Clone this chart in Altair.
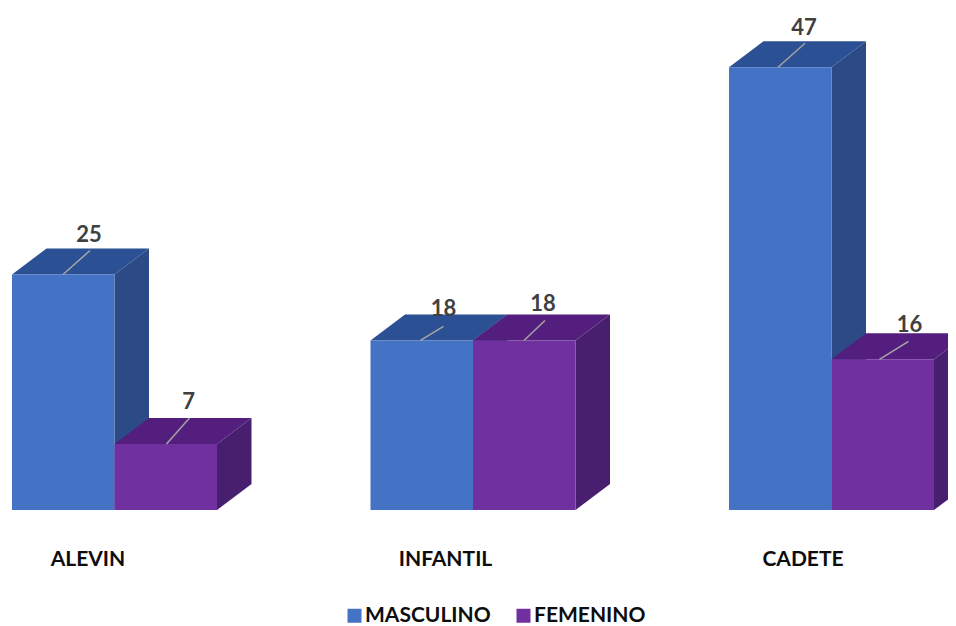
import altair as alt
import pandas as pd

categories = ["ALEVIN", "INFANTIL", "CADETE"]
series = ["MASCULINO", "FEMENINO"]
masculino = [25, 18, 47]
femenino = [7, 18, 16]

W, H = 940, 618
PX_X = 102.5   # px per bar width
PX_Y = 9.42    # px per value unit
BASE = 502     # px of value 0 in the plot
LEFT = 4       # px of first bar's left edge
STEP = 358.5   # px between groups
DX, DY = 34.5 / PX_X, 26 / PX_Y

leader_start = [[51, 50, 49], [52, 51, 48]]
leader_dx = [[27, 23, 27], [23, 21, 29]]
leader_dy = [[24, 14, 24], [26, 20, 18]]
label_x = [[77, 73, 75], [74, 70, 78]]
label_y = [[40, 31, 39], [42, 36, 34]]

sx = lambda px: px / PX_X
sy = lambda px: px / PX_Y

fronts, sides, tops, leaders, labels = [], [], [], [], []
for si, (name, vals) in enumerate(zip(series, [masculino, femenino])):
    for ci, (cat, v) in enumerate(zip(categories, vals)):
        L = sx(LEFT + ci * STEP) + si
        R = L + 1
        fronts.append(dict(series=name, cat=cat, x=L, x2=R, y=v, y2=0))
        sides += [
            dict(series=name, cat=cat, x=R, y=v, y2=0),
            dict(series=name, cat=cat, x=R + DX, y=v + DY, y2=DY),
        ]
        tops += [
            dict(series=name, cat=cat, x=L, y=v, y2=v),
            dict(series=name, cat=cat, x=L + DX, y=v, y2=v + DY),
            dict(series=name, cat=cat, x=R, y=v, y2=v + DY),
            dict(series=name, cat=cat, x=R + DX, y=v + DY, y2=v + DY),
        ]
        x0 = L + sx(leader_start[si][ci])
        leaders.append(dict(x=x0, x2=x0 + sx(leader_dx[si][ci]), y=v, y2=v + sy(leader_dy[si][ci])))
        labels.append(dict(x=L + sx(label_x[si][ci]), y=v + sy(label_y[si][ci]), t=str(v)))

xs = alt.Scale(domain=[0, W / PX_X], range=[0, W], nice=False, zero=False)
ys = alt.Scale(domain=[-(H - BASE) / PX_Y, BASE / PX_Y], range=[H, 0], nice=False, zero=False)
X = alt.X("x:Q", scale=xs, axis=None)
Y = alt.Y("y:Q", scale=ys, axis=None)

side_colors = {"MASCULINO": "#2C4A85", "FEMENINO": "#481E6E"}
top_colors = {"MASCULINO": "#2C5094", "FEMENINO": "#541E7E"}

layers = []
for name in series:
    sd = pd.DataFrame([r for r in sides if r["series"] == name])
    td = pd.DataFrame([r for r in tops if r["series"] == name])
    layers.append(alt.Chart(sd).mark_area(color=side_colors[name]).encode(
        x=X, y=Y, y2="y2:Q", detail="cat:N"))
    layers.append(alt.Chart(td).mark_area(color=top_colors[name]).encode(
        x=X, y=Y, y2="y2:Q", detail="cat:N"))

front = alt.Chart(pd.DataFrame(fronts)).mark_rect().encode(
    x=X, x2="x2:Q", y=Y, y2="y2:Q",
    color=alt.Color("series:N",
                    scale=alt.Scale(domain=series, range=["#4472C4", "#7030A0"]),
                    legend=alt.Legend(
                        orient="none", legendX=336, legendY=597, direction="horizontal",
                        title=None, symbolType="square", symbolSize=196,
                        symbolStrokeWidth=0, symbolOpacity=1,
                        labelFont="Lato", labelFontWeight="bold", labelFontSize=21,
                        labelColor="#0D0D0D", labelOffset=0, columnPadding=22,
                        padding=0)),
)
rule = alt.Chart(pd.DataFrame(leaders)).mark_rule(color="#A6A6A6", strokeWidth=1.5).encode(
    x=X, x2="x2:Q", y=Y, y2="y2:Q")
text = alt.Chart(pd.DataFrame(labels)).mark_text(
    font="Lato", fontWeight="bold", fontSize=22, color="#404040").encode(x=X, y=Y, text="t:N")

cat_centers = [76, 75, 74]
cat_df = pd.DataFrame([dict(x=sx(LEFT + i * STEP + cat_centers[i]), t=c) for i, c in enumerate(categories)])
cat_text = alt.Chart(cat_df).mark_text(
    font="Lato", fontWeight="bold", fontSize=21, color="#0D0D0D").encode(
    x=X, y=alt.value(552), text="t:N")

chart = alt.layer(*layers, front, rule, text, cat_text).properties(
    width=W, height=H, padding=0,
    autosize=alt.AutoSizeParams(type="none"),
    background="white",
).configure_view(stroke=None)

chart.save("out.html", embed_options={"renderer": "svg", "actions": False})
